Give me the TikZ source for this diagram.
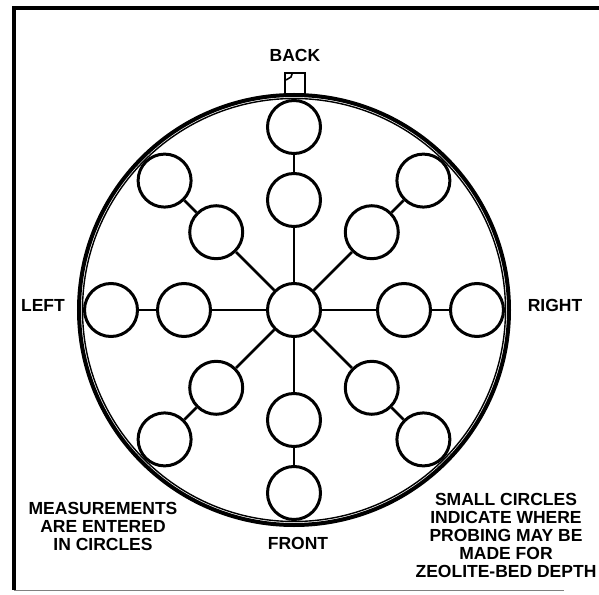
\documentclass[tikz,border=0pt]{standalone}
\usepackage{fontspec}
\newfontfamily\labelfont{Liberation Sans}
\usetikzlibrary{positioning}

\begin{document}
\begin{tikzpicture}[x=1pt,y=1pt,
  probe/.style={circle,draw,line width=3pt,minimum size=53pt,inner sep=0pt},
  spoke/.style={line width=2.6pt},
  rim/.style={line width=4pt},
  lbl/.style={font=\labelfont\bfseries\fontsize{17.5}{18}\selectfont,
              align=center,inner sep=0pt}]
  \useasboundingbox (-294,-284) rectangle (305,310);
  % sheet edges
  \draw[line width=3.2pt] (305,302) -- (-280,302) -- (-280,-280);
  \draw[gray,line width=1pt] (-280,-280) -- (270,-280);
  % tank wall
  \draw[rim] (0,0) circle (215);
  \draw[line width=1.4pt] (0,0) circle (211.5);
  \draw[line width=2.4pt] (-9,214) -- (-9,237) -- (11,237) -- (11,214);
  \draw[line width=1.6pt] (-8,230) -- (-3,233) -- (-2,236);
  % probing circles
  \node[probe] (hub) at (0,0) {};
  \node[probe] (nIn) at (90:110) {};
  \node[probe] (nOut) at (90:183) {};
  \node[probe] (neIn) at (45:110) {};
  \node[probe] (neOut) at (45:183) {};
  \node[probe] (eIn) at (0:110) {};
  \node[probe] (eOut) at (0:183) {};
  \node[probe] (seIn) at (-45:110) {};
  \node[probe] (seOut) at (-45:183) {};
  \node[probe] (sIn) at (-90:110) {};
  \node[probe] (sOut) at (-90:183) {};
  \node[probe] (swIn) at (-135:110) {};
  \node[probe] (swOut) at (-135:183) {};
  \node[probe] (wIn) at (180:110) {};
  \node[probe] (wOut) at (180:183) {};
  \node[probe] (nwIn) at (135:110) {};
  \node[probe] (nwOut) at (135:183) {};
  \draw[spoke] (hub) -- (nIn) -- (nOut);
  \draw[spoke] (hub) -- (neIn) -- (neOut);
  \draw[spoke] (hub) -- (eIn) -- (eOut);
  \draw[spoke] (hub) -- (seIn) -- (seOut);
  \draw[spoke] (hub) -- (sIn) -- (sOut);
  \draw[spoke] (hub) -- (swIn) -- (swOut);
  \draw[spoke] (hub) -- (wIn) -- (wOut);
  \draw[spoke] (hub) -- (nwIn) -- (nwOut);
  % labels
  \node[lbl] (back) at (1,255) {BACK};
  \node[lbl] (left) at (-251,5) {LEFT};
  \node[lbl] (right) at (261,5) {RIGHT};
  \node[lbl] (front) at (4,-233) {FRONT};
  \node[lbl] (note) at (-191,-216) {MEASUREMENTS\\ARE ENTERED\\IN CIRCLES};
  \node[lbl] (probing) at (212,-225)
    {SMALL CIRCLES\\INDICATE WHERE\\PROBING MAY BE\\MADE FOR\\ZEOLITE-BED DEPTH};
\end{tikzpicture}
\end{document}
